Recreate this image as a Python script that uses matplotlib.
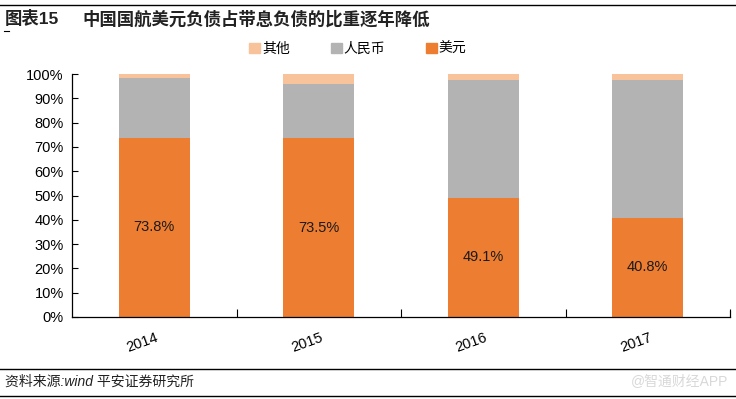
import matplotlib
matplotlib.use("Agg")
import matplotlib.pyplot as plt
import matplotlib.transforms as mtransforms
from matplotlib.lines import Line2D
from matplotlib.patches import Patch
import numpy as np

plt.rcParams['font.family'] = ['Liberation Sans', 'Noto Sans CJK SC', 'DejaVu Sans']

years = ['2014', '2015', '2016', '2017']
usd = [73.8, 73.5, 49.1, 40.8]
rmb = [24.4, 22.4, 48.4, 56.7]
other = [1.8, 4.1, 2.5, 2.5]
usd_labels = ['73.8%', '73.5%', '49.1%', '40.8%']

c_usd = '#ED7D31'
c_rmb = '#B3B3B3'
c_other = '#F8C29A'

fig = plt.figure(figsize=(7.36, 3.99), dpi=100)
ax = fig.add_axes([72 / 736, 1 - 317 / 399, 658 / 736, 243 / 399])

x = np.arange(len(years))
usd_f = np.array(usd) / 100
rmb_f = np.array(rmb) / 100
oth_f = np.array(other) / 100
w = 0.43
ax.bar(x, usd_f, w, color=c_usd, zorder=2)
ax.bar(x, rmb_f, w, bottom=usd_f, color=c_rmb, zorder=2)
ax.bar(x, oth_f, w, bottom=usd_f + rmb_f, color=c_other, zorder=2)

for xi, v, lab in zip(x, usd_f, usd_labels):
    ax.text(xi, v / 2, lab, ha='center', va='center', fontsize=10.5, color='#1a1a1a')

ax.set_xlim(-0.5, len(years) - 0.5)
ax.set_ylim(0, 1)
ax.set_yticks(np.arange(0, 1.01, 0.1))
ax.set_yticklabels(['%d%%' % v for v in range(0, 101, 10)], fontsize=10.5)
ax.tick_params(axis='y', direction='in', length=4, width=0.8, pad=6)

ax.set_xticks(x)
ax.set_xticklabels(years, rotation=20, fontsize=10.5)
ax.tick_params(axis='x', length=0, pad=10)
shift = mtransforms.ScaledTranslation(-12 / 100, 0, fig.dpi_scale_trans)
for lbl in ax.get_xticklabels():
    lbl.set_transform(lbl.get_transform() + shift)
ax.set_xticks(np.arange(0.5, len(years), 1), minor=True)
ax.tick_params(axis='x', which='minor', direction='in', length=6, width=0.8)

ax.spines['top'].set_visible(False)
ax.spines['left'].set_linewidth(0.9)
ax.spines['bottom'].set_linewidth(0.9)
ax.spines['right'].set_bounds(0, 0.025)
ax.spines['right'].set_linewidth(0.8)

handles = [Patch(color=c_other, label='其他'),
           Patch(color=c_rmb, label='人民币'),
           Patch(color=c_usd, label='美元')]
fig.legend(handles=handles, loc='center', bbox_to_anchor=(358 / 736, 1 - 49 / 399),
           ncol=3, frameon=False, fontsize=10, handlelength=0.8, handleheight=0.8,
           handletextpad=0.15, columnspacing=2.9)

# title block and frame lines
fig.add_artist(Line2D([0, 1], [1 - 5 / 399, 1 - 5 / 399], color='black', lw=1.0))
fig.add_artist(Line2D([4 / 736, 9 / 736], [1 - 31 / 399, 1 - 31 / 399], color='black', lw=0.8))
fig.text(5 / 736, 1 - 19 / 399, '图表15', fontsize=12.5, fontweight='bold', va='center', color='#222222')
fig.text(82 / 736, 1 - 19 / 399, '中国国航美元负债占带息负债的比重逐年降低', fontsize=12.5,
         fontweight='bold', va='center', color='#222222')

fig.add_artist(Line2D([0, 1], [1 - 369 / 399, 1 - 369 / 399], color='black', lw=1.0))
fig.add_artist(Line2D([0, 1], [1 - 396 / 399, 1 - 396 / 399], color='black', lw=1.0))
fig.text(5 / 736, 1 - 382 / 399, '资料来源:wind 平安证券研究所', fontsize=10, style='italic',
         va='center', color='#222222')
fig.text(728 / 736, 1 - 382 / 399, '@智通财经APP', fontsize=10, va='center', ha='right',
         color='#d8d8d8')

fig.savefig('out.png', dpi=100)
